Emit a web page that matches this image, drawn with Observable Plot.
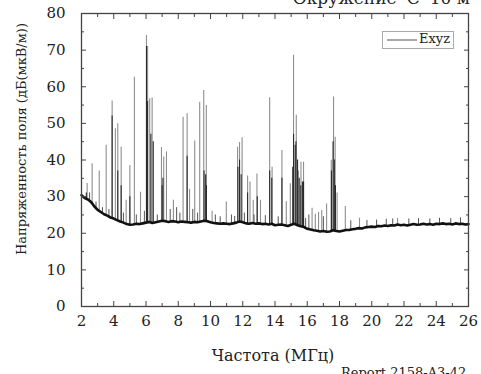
<!DOCTYPE html>
<html><head><meta charset="utf-8">
<script src="https://cdn.jsdelivr.net/npm/d3@7"></script>
<script src="https://cdn.jsdelivr.net/npm/@observablehq/plot@0.6"></script>
<style>
body{margin:0;background:#fff;}
#wrap{position:relative;width:481px;height:374px;overflow:hidden;color:#222;}
.t{position:absolute;white-space:nowrap;}
</style></head>
<body><div id="wrap"></div>
<script>
// ---- data ----
const title = "Окружение 'С' 10 м";
const xTitle = "Частота (МГц)";
const yTitle = "Напряженность поля (дБ(мкВ/м))";
const caption = "Report 2158-A3-42";
const seriesName = "Exyz";
const xTicks = [2,4,6,8,10,12,14,16,18,20,22,24,26];
const yTicks = [0,10,20,30,40,50,60,70,80];
// baseline level every 0.2 MHz from 2.0 to 26.0
const baseStart = 2, baseStep = 0.2;
const baseline = [30.4,29.6,29.2,28.5,27.3,26.4,25.8,25.2,24.8,24.3,24.0,23.6,23.2,22.9,22.5,22.3,22.4,22.6,22.5,22.7,
22.9,23.1,22.8,23.0,23.2,23.4,23.3,23.1,23.3,23.2,23.0,23.2,23.1,23.0,22.9,23.1,23.0,23.2,23.4,23.3,
23.0,22.8,22.7,22.6,22.7,22.6,22.5,22.7,22.9,23.2,23.0,22.7,22.6,22.8,22.6,22.7,22.5,22.6,22.4,22.6,
22.2,22.3,22.4,22.2,22.0,22.3,22.6,22.2,21.9,21.7,21.2,21.0,20.8,20.7,20.5,20.6,20.4,20.5,20.8,20.6,
20.5,20.7,20.9,20.9,21.1,21.2,21.4,21.3,21.6,21.7,21.8,21.7,22.0,21.9,22.1,22.0,22.2,22.1,22.4,22.2,
22.3,22.1,22.3,22.5,22.3,22.4,22.6,22.4,22.5,22.3,22.6,22.5,22.7,22.5,22.6,22.4,22.7,22.5,22.6,22.4,22.5];
// tall (light) spikes: [MHz, dB]
const peakFreq = [2.35,2.66,3.1,3.53,3.9,4.1,4.25,4.46,4.77,5.0,5.28,5.66,6.03,6.1,6.23,6.38,6.96,7.1,7.27,7.7,8.3,8.55,8.7,9.02,9.33,9.58,9.74,10.1,10.98,11.68,11.8,11.96,12.3,12.45,12.65,12.88,13.1,13.67,13.82,14.43,14.7,14.95,15.15,15.32,15.45,15.61,15.77,16.3,16.5,16.7,16.9,17.2,17.49,17.63,17.73,17.85,18.36,19.24,21.6];
const peakVal  = [33.6,39,37,44,56.1,48.5,49.9,43.5,29,38.5,62.6,31.2,74,71,56.7,56.9,43.4,40.8,42.2,29,51.7,52.6,32,45.2,55.8,59,54.9,26,28.5,43.5,44.8,46.1,35.6,34,29,36.2,29,57,38,42.6,28.6,33.5,68.6,52.2,37,39.4,39.4,26.8,25.2,25.7,26.2,28,39.9,57.2,46.2,31,27.3,24.1,24];
// dark cores of spikes: [MHz, dB]
const coreFreq = [2.3,3.9,4.25,4.46,5.0,6.03,6.1,6.3,6.45,7.0,7.05,8.55,9.6,9.7,9.75,11.7,11.8,11.9,12.3,12.9,13.67,13.8,14.43,15.1,15.15,15.25,15.3,15.4,15.5,15.6,15.7,15.77,17.5,17.6,17.68,17.75];
const coreVal  = [31,52,37,33,30,71,56,47,45,33,35,41,37,36,33,38,40,36,31,30,37,35,35,38,47,44,45,40,35,33,34,34,37,45,40,33];
// small grass spikes near the floor: [MHz, dB]
const grassFreq = [2.5,2.9,3.3,3.7,4.6,5.4,5.9,6.7,7.5,7.9,8.1,8.9,9.2,10.3,10.6,11.3,11.5,12.1,12.7,13.4,14.2,15.9,16.1,17.0,18.7,19.7,20.3,20.9,21.3,22.3,22.9,23.6,24.2,24.9,25.5];
const grassVal  = [31,28.5,27,26.5,25.5,25,26,25,26.5,27,25.5,26.5,25.5,25,24.5,25,24.6,25.5,25,24.8,24.5,24,25,24.5,23.4,23.5,23.6,23.8,23.9,23.9,24,23.9,24.1,24,24.2];

// ---- build ----
const baseData = baseline.map((v,i)=>({f: baseStart + i*baseStep, v}));
const baseAt = f => {
  const i = Math.min(baseline.length-2, Math.max(0, Math.floor((f-baseStart)/baseStep)));
  const t = (f - (baseStart + i*baseStep))/baseStep;
  return baseline[i]*(1-t) + baseline[i+1]*t;
};
const peaks = peakFreq.map((f,i)=>({f, v: peakVal[i]}));
const cores = coreFreq.map((f,i)=>({f, v: coreVal[i]}));
const grass = grassFreq.map((f,i)=>({f, v: grassVal[i]}));
const xMinor = d3.range(3,26,2);
const yMinor = d3.range(5,80,10);
const fs = 15;
const ff = "'DejaVu Serif', serif";
document.getElementById("wrap").style.fontFamily = ff;

const chart = Plot.plot({
  width: 481, height: 374,
  marginLeft: 81, marginRight: 13, marginTop: 13, marginBottom: 68,
  x: {domain: [2,26]}, y: {domain: [0,80]},
  style: {fontFamily: ff, fontSize: fs+"px", color: "#222", background: "#fff"},
  marks: [
    Plot.ruleX(peaks, {x: "f", y1: d=>baseAt(d.f), y2: "v", stroke: "#8e8e8e", strokeWidth: 1.1}),
    Plot.ruleX(cores, {x: "f", y1: d=>baseAt(d.f), y2: "v", stroke: "#2a2a2a", strokeWidth: 1.1}),
    Plot.ruleX(grass, {x: "f", y1: d=>baseAt(d.f), y2: "v", stroke: "#555", strokeWidth: 1}),
    Plot.lineY(baseData, {x: "f", y: "v", stroke: "#111", strokeWidth: 2.6}),
    Plot.axisX({anchor: "bottom", ticks: xTicks, tickSize: -5, tickPadding: 14, fontSize: fs, label: null, stroke: "#444"}),
    Plot.axisX({anchor: "bottom", ticks: xMinor, tickSize: -3, tickFormat: ()=>"", label: null, stroke: "#444"}),
    Plot.axisX({anchor: "top", ticks: xTicks, tickSize: -5, tickFormat: ()=>"", label: null, stroke: "#444"}),
    Plot.axisX({anchor: "top", ticks: xMinor, tickSize: -3, tickFormat: ()=>"", label: null, stroke: "#444"}),
    Plot.axisY({anchor: "left", ticks: yTicks, tickSize: -5, tickPadding: 21, fontSize: fs, label: null, stroke: "#444"}),
    Plot.axisY({anchor: "left", ticks: yMinor, tickSize: -3, tickFormat: ()=>"", label: null, stroke: "#444"}),
    Plot.axisY({anchor: "right", ticks: yTicks, tickSize: -5, tickFormat: ()=>"", label: null, stroke: "#444"}),
    Plot.axisY({anchor: "right", ticks: yMinor, tickSize: -3, tickFormat: ()=>"", label: null, stroke: "#444"}),
    Plot.frame({stroke: "#444", strokeWidth: 1.3})
  ]
});
const wrap = document.getElementById("wrap");
wrap.appendChild(chart);

function addText(txt, css){
  const d = document.createElement("div");
  d.className = "t"; d.textContent = txt; d.style.fontFamily = ff;
  Object.assign(d.style, css); wrap.appendChild(d); return d;
}
addText(title, {right: "11px", top: "-12px", fontSize: "17px"});
addText(xTitle, {left: "273px", top: "346px", fontSize: "16px", transform: "translateX(-50%)"});
addText(caption, {left: "341px", top: "365px", fontSize: "13px"});
addText(yTitle, {left: "21px", top: "139px", fontSize: "13px", transform: "translate(-50%,-50%) rotate(-90deg)"});
// legend
const lg = document.createElement("div");
Object.assign(lg.style, {position:"absolute", left:"382px", top:"31px", width:"70px", height:"16px", border:"1px solid #aaa", background:"#fff"});
const ln = document.createElement("div");
Object.assign(ln.style, {position:"absolute", left:"4px", top:"7px", width:"30px", height:"0", borderTop:"2px solid #a8a8a8"});
lg.appendChild(ln);
const lt = document.createElement("div");
Object.assign(lt.style, {position:"absolute", left:"36px", top:"-1px", fontSize:"13px", whiteSpace:"nowrap", fontFamily: ff});
lt.textContent = seriesName;
lg.appendChild(lt);
wrap.appendChild(lg);
</script>
</body></html>
